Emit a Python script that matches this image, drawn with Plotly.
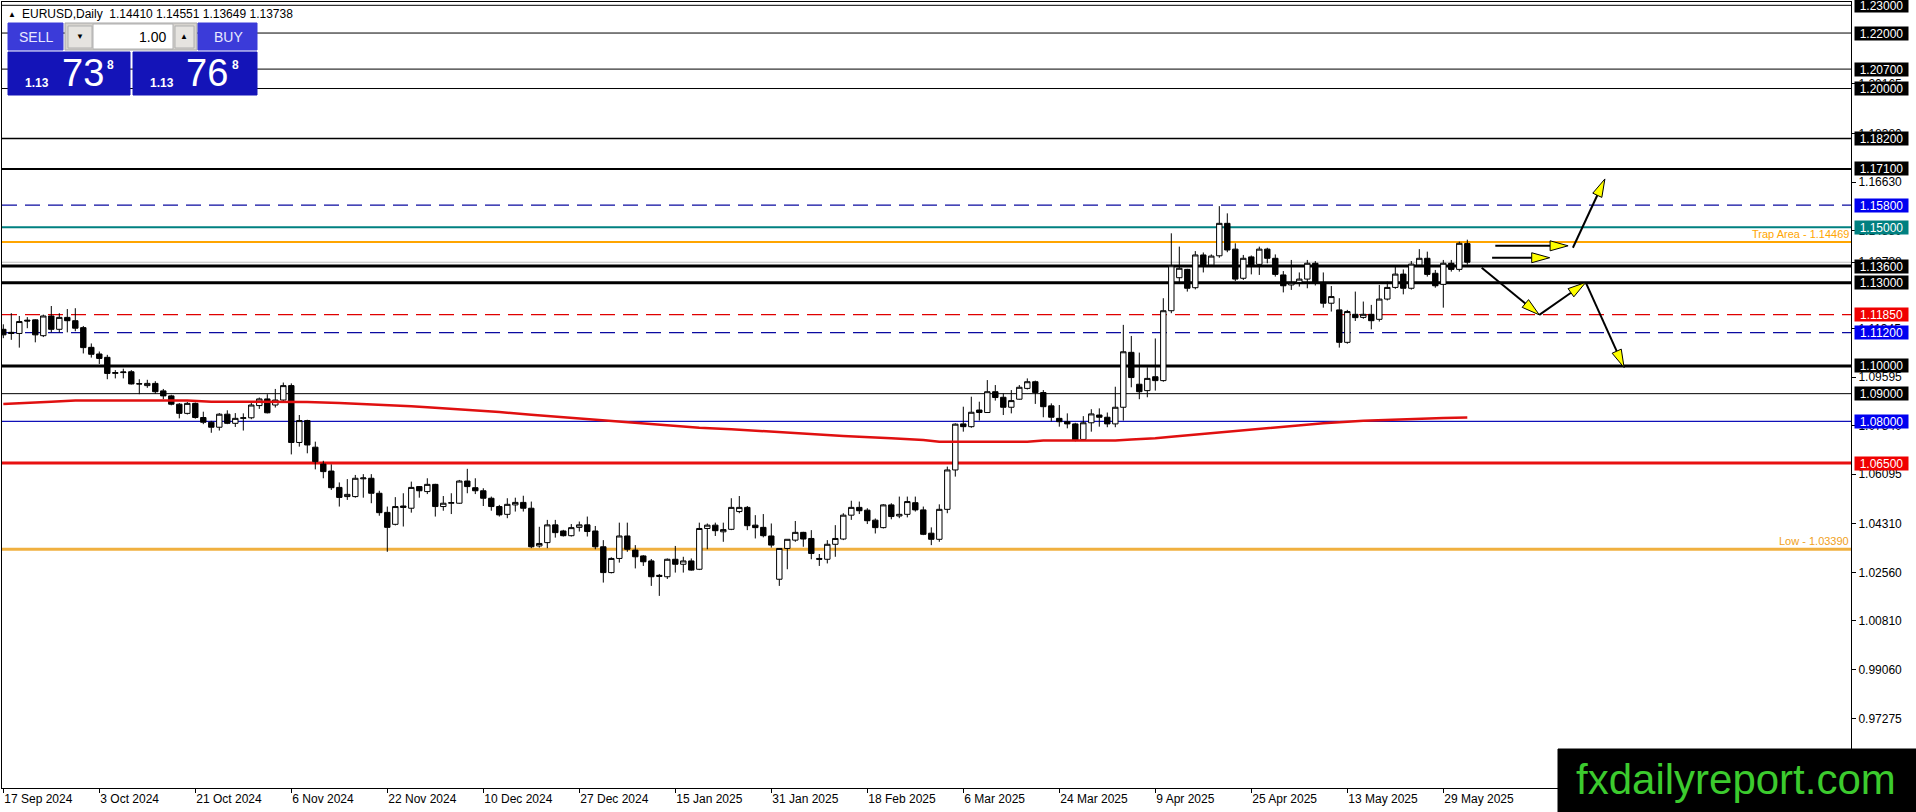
import math
import plotly.graph_objects as go

# EURUSD daily bars, 17 Sep 2024 .. 3 Jun 2025 (one entry per MT4 bar)
opens = [
    1.1132, 1.1121, 1.1117, 1.1165, 1.1166, 1.1109, 1.1180, 1.1132, 1.1175, 1.1163,
    1.1138, 1.1067, 1.1043, 1.1031, 1.0973, 1.0976, 1.0979, 1.0936, 1.0929, 1.0937,
    1.0910, 1.0892, 1.0862, 1.0829, 1.0865, 1.0814, 1.0797, 1.0779, 1.0826, 1.0793,
    1.0811, 1.0813, 1.0857, 1.0881, 1.0859, 1.0877, 1.0929, 1.0724, 1.0803, 1.0707,
    1.0646, 1.0621, 1.0562, 1.0529, 1.0529, 1.0593, 1.0595, 1.0541, 1.0472, 1.0429,
    1.0495, 1.0487, 1.0565, 1.0547, 1.0573, 1.0493, 1.0505, 1.0505, 1.0585, 1.0561,
    1.0550, 1.0523, 1.0493, 1.0465, 1.0499, 1.0508, 1.0487, 1.0351, 1.0363, 1.0427,
    1.0405, 1.0388, 1.0418, 1.0427, 1.0405, 1.0348, 1.0255, 1.0306, 1.0387, 1.0336,
    1.0315, 1.0297, 1.0241, 1.0240, 1.0303, 1.0285, 1.0297, 1.0267, 1.0414, 1.0426,
    1.0402, 1.0411, 1.0475, 1.0490, 1.0426, 1.0418, 1.0387, 1.0231, 1.0342, 1.0372,
    1.0400, 1.0378, 1.0306, 1.0303, 1.0357, 1.0376, 1.0462, 1.0490, 1.0480, 1.0444,
    1.0417, 1.0499, 1.0459, 1.0465, 1.0507, 1.0481, 1.0397, 1.0375, 1.0483, 1.0625,
    1.0791, 1.0781, 1.0841, 1.0832, 1.0907, 1.0887, 1.0851, 1.0880, 1.0919, 1.0943,
    1.0904, 1.0856, 1.0811, 1.0799, 1.0791, 1.0735, 1.0795, 1.0823, 1.0815, 1.0791,
    1.0851, 1.1049, 1.0934, 1.0911, 1.0961, 1.0947, 1.1199, 1.1318, 1.1348, 1.1282,
    1.1400, 1.1364, 1.1397, 1.1514, 1.1421, 1.1316, 1.1393, 1.1366, 1.1421, 1.1388,
    1.1328, 1.1292, 1.1301, 1.1313, 1.1370, 1.1301, 1.1226, 1.1202, 1.1085, 1.1186,
    1.1175, 1.1186, 1.1168, 1.1241, 1.1283, 1.1331, 1.1280, 1.1364, 1.1388, 1.1334,
    1.1294, 1.1370, 1.1348, 1.14410,
]
highs = [
    1.1150, 1.1190, 1.1180, 1.1176, 1.1168, 1.1185, 1.1216, 1.1190, 1.1205, 1.1208,
    1.1144, 1.1081, 1.1052, 1.1040, 1.0985, 1.0990, 1.0985, 1.0952, 1.0950, 1.0945,
    1.0917, 1.0896, 1.0866, 1.0870, 1.0868, 1.0835, 1.0802, 1.0830, 1.0840, 1.0830,
    1.0829, 1.0870, 1.0886, 1.0898, 1.0917, 1.0940, 1.0937, 1.0823, 1.0806, 1.0727,
    1.0658, 1.0645, 1.0580, 1.0592, 1.0607, 1.0610, 1.0610, 1.0550, 1.0493, 1.0527,
    1.0541, 1.0583, 1.0567, 1.0595, 1.0575, 1.0531, 1.0541, 1.0589, 1.0629, 1.0595,
    1.0559, 1.0529, 1.0499, 1.0523, 1.0525, 1.0532, 1.0511, 1.0420, 1.0445, 1.0445,
    1.0409, 1.0430, 1.0439, 1.0457, 1.0423, 1.0372, 1.0310, 1.0435, 1.0435, 1.0354,
    1.0318, 1.0304, 1.0250, 1.0306, 1.0351, 1.0312, 1.0306, 1.0435, 1.0432, 1.0435,
    1.0435, 1.0523, 1.0531, 1.0495, 1.0462, 1.0466, 1.0432, 1.0342, 1.0375, 1.0441,
    1.0402, 1.0408, 1.0322, 1.0372, 1.0426, 1.0469, 1.0514, 1.0511, 1.0487, 1.0450,
    1.0502, 1.0505, 1.0529, 1.0529, 1.0529, 1.0493, 1.0418, 1.0501, 1.0637, 1.0793,
    1.0853, 1.0889, 1.0871, 1.0949, 1.0931, 1.0901, 1.0913, 1.0931, 1.0955, 1.0947,
    1.0913, 1.0865, 1.0859, 1.0829, 1.0795, 1.0819, 1.0844, 1.0847, 1.0832, 1.0925,
    1.1148, 1.1108, 1.1048, 1.0995, 1.1099, 1.1244, 1.1478, 1.1430, 1.1350, 1.1414,
    1.1409, 1.1402, 1.1576, 1.1550, 1.1442, 1.1400, 1.1398, 1.1430, 1.1426, 1.1402,
    1.1342, 1.1382, 1.1337, 1.1382, 1.1378, 1.1337, 1.1288, 1.1244, 1.1202, 1.1268,
    1.1232, 1.1220, 1.1292, 1.1304, 1.1358, 1.1348, 1.1378, 1.1421, 1.1412, 1.1346,
    1.1382, 1.1382, 1.1448, 1.14551,
]
lows = [
    1.1100, 1.1094, 1.1066, 1.1136, 1.1085, 1.1104, 1.1121, 1.1121, 1.1121, 1.1125,
    1.1045, 1.1030, 1.1007, 1.0952, 1.0955, 1.0955, 1.0933, 1.0898, 1.0921, 1.0900,
    1.0880, 1.0858, 1.0811, 1.0825, 1.0810, 1.0790, 1.0759, 1.0767, 1.0790, 1.0780,
    1.0767, 1.0808, 1.0845, 1.0829, 1.0850, 1.0870, 1.0681, 1.0709, 1.0685, 1.0627,
    1.0595, 1.0553, 1.0493, 1.0517, 1.0525, 1.0525, 1.0505, 1.0460, 1.0330, 1.0425,
    1.0421, 1.0471, 1.0525, 1.0538, 1.0457, 1.0478, 1.0466, 1.0503, 1.0541, 1.0538,
    1.0495, 1.0478, 1.0457, 1.0451, 1.0475, 1.0475, 1.0343, 1.0345, 1.0343, 1.0381,
    1.0385, 1.0385, 1.0403, 1.0385, 1.0339, 1.0219, 1.0252, 1.0291, 1.0330, 1.0270,
    1.0279, 1.0207, 1.0171, 1.0232, 1.0255, 1.0255, 1.0262, 1.0264, 1.0339, 1.0387,
    1.0366, 1.0408, 1.0469, 1.0408, 1.0378, 1.0382, 1.0345, 1.0207, 1.0267, 1.0366,
    1.0348, 1.0303, 1.0279, 1.0288, 1.0312, 1.0372, 1.0445, 1.0466, 1.0430, 1.0396,
    1.0414, 1.0447, 1.0451, 1.0454, 1.0475, 1.0390, 1.0354, 1.0366, 1.0469, 1.0601,
    1.0763, 1.0777, 1.0803, 1.0832, 1.0875, 1.0823, 1.0829, 1.0878, 1.0915, 1.0863,
    1.0815, 1.0800, 1.0781, 1.0775, 1.0728, 1.0730, 1.0763, 1.0781, 1.0779, 1.0779,
    1.0803, 1.0923, 1.0880, 1.0887, 1.0911, 1.0943, 1.1190, 1.1298, 1.1268, 1.1276,
    1.1337, 1.1360, 1.1390, 1.1410, 1.1306, 1.1310, 1.1330, 1.1328, 1.1370, 1.1322,
    1.1265, 1.1274, 1.1286, 1.1280, 1.1290, 1.1210, 1.1196, 1.1066, 1.1080, 1.1162,
    1.1170, 1.1132, 1.1160, 1.1236, 1.1278, 1.1258, 1.1275, 1.1360, 1.1322, 1.1282,
    1.1210, 1.1340, 1.1340, 1.13649,
]
closes = [
    1.1112, 1.1117, 1.1160, 1.1162, 1.1112, 1.1180, 1.1132, 1.1175, 1.1163, 1.1136,
    1.1066, 1.1042, 1.1027, 1.0973, 1.0976, 1.0978, 1.0935, 1.0935, 1.0937, 1.0907,
    1.0892, 1.0862, 1.0829, 1.0865, 1.0814, 1.0797, 1.0779, 1.0826, 1.0793, 1.0811,
    1.0813, 1.0859, 1.0881, 1.0831, 1.0877, 1.0929, 1.0724, 1.0803, 1.0715, 1.0655,
    1.0619, 1.0561, 1.0526, 1.0537, 1.0595, 1.0596, 1.0541, 1.0471, 1.0418, 1.0493,
    1.0490, 1.0562, 1.0550, 1.0573, 1.0493, 1.0505, 1.0507, 1.0585, 1.0565, 1.0550,
    1.0523, 1.0493, 1.0463, 1.0501, 1.0508, 1.0487, 1.0348, 1.0360, 1.0427, 1.0399,
    1.0388, 1.0417, 1.0427, 1.0403, 1.0348, 1.0255, 1.0306, 1.0387, 1.0339, 1.0312,
    1.0294, 1.0240, 1.0245, 1.0303, 1.0285, 1.0297, 1.0264, 1.0414, 1.0426, 1.0406,
    1.0410, 1.0490, 1.0490, 1.0424, 1.0417, 1.0388, 1.0354, 1.0342, 1.0375, 1.0400,
    1.0376, 1.0324, 1.0303, 1.0357, 1.0378, 1.0462, 1.0490, 1.0478, 1.0442, 1.0417,
    1.0499, 1.0457, 1.0465, 1.0511, 1.0481, 1.0393, 1.0375, 1.0483, 1.0625, 1.0790,
    1.0781, 1.0833, 1.0832, 1.0907, 1.0886, 1.0851, 1.0875, 1.0923, 1.0943, 1.0904,
    1.0853, 1.0815, 1.0799, 1.0791, 1.0733, 1.0795, 1.0827, 1.0815, 1.0791, 1.0851,
    1.1051, 1.0958, 1.0907, 1.0955, 1.0947, 1.1199, 1.1361, 1.1352, 1.1280, 1.1400,
    1.1364, 1.1396, 1.1514, 1.1418, 1.1313, 1.1388, 1.1361, 1.1421, 1.1388, 1.1330,
    1.1289, 1.1301, 1.1313, 1.1370, 1.1301, 1.1226, 1.1250, 1.1085, 1.1196, 1.1174,
    1.1186, 1.1163, 1.1241, 1.1283, 1.1331, 1.1280, 1.1367, 1.1388, 1.1330, 1.1289,
    1.1370, 1.1348, 1.1442, 1.13738,
]

# moving average (red line), read at a few bar positions
ma_bar = [0, 3, 6, 9, 23, 26, 38, 42, 46, 48, 51, 53, 55, 58, 62, 66, 70, 75, 79, 83,
          87, 91, 95, 100, 105, 111, 115, 117, 128, 130, 139, 141, 144, 146, 150, 155,
          160, 165, 170, 175, 180, 183]
ma_val = [1.0863, 1.0868, 1.0871, 1.0875, 1.0875, 1.0871, 1.0870, 1.0866, 1.0862, 1.0859,
          1.0855, 1.0851, 1.0847, 1.0843, 1.0834, 1.0824, 1.0815, 1.0803, 1.0795, 1.0787,
          1.0777, 1.0772, 1.0765, 1.0755, 1.0747, 1.0739, 1.0733, 1.0727, 1.0727, 1.0731,
          1.0731, 1.0735, 1.0739, 1.0745, 1.0755, 1.0768, 1.0780, 1.0793, 1.0802, 1.0808,
          1.0812, 1.0814]

date_bars = [0, 12, 24, 36, 48, 60, 72, 84, 96, 108, 120, 132, 144, 156, 168, 180]
date_labels = ["17 Sep 2024", "3 Oct 2024", "21 Oct 2024", "6 Nov 2024", "22 Nov 2024",
               "10 Dec 2024", "27 Dec 2024", "15 Jan 2025", "31 Jan 2025", "18 Feb 2025",
               "6 Mar 2025", "24 Mar 2025", "9 Apr 2025", "25 Apr 2025", "13 May 2025",
               "29 May 2025"]

# horizontal levels drawn on the chart
levels = [1.2300, 1.2200, 1.2070, 1.2000, 1.1820, 1.1710, 1.1580, 1.1500, 1.14469,
          1.13738, 1.1360, 1.1300, 1.1185, 1.1120, 1.1000, 1.0900, 1.0800, 1.0650, 1.0339]
level_color = ["black", "black", "black", "black", "black", "black", "#0A0AA0", "#008080",
               "#FFA500", "#C0C0C0", "black", "black", "#E00000", "#0A0AA0", "black",
               "black", "#1010B8", "#E81010", "#F0B040"]
level_width = [1, 1, 1, 1, 1.5, 2, 1.3, 2, 2, 1, 3, 3, 1.3, 1.3, 3, 1, 1.2, 3, 3]
level_dash = ["solid"] * 6 + ["15px,8px"] + ["solid"] * 5 + ["15px,8px", "15px,8px"] + ["solid"] * 5

# coloured price tags on the right scale
tag_price = [1.2300, 1.2200, 1.2070, 1.2000, 1.1820, 1.1710, 1.1580, 1.1500, 1.1360,
             1.1300, 1.1185, 1.1120, 1.1000, 1.0900, 1.0800, 1.0650]
tag_color = ["black", "black", "black", "black", "black", "black", "#0000F0", "#008080",
             "black", "black", "#F00000", "#0000F0", "black", "black", "#0000F0", "#F00000"]

# plain scale labels (some sit behind the tags)
scale_ticks = [1.20165, 1.18380, 1.16630, 1.14880, 1.13738, 1.11345, 1.09595, 1.07840,
               1.06095, 1.04310, 1.02560, 1.00810, 0.99060, 0.97275]

# drawn arrows: (bar0, price0, bar1, price1)
arrows = [(186.5, 1.1433, 195.6, 1.1433), (186.1, 1.1390, 193.3, 1.1390),
          (196.2, 1.1426, 200.2, 1.1674), (184.8, 1.1354, 192.0, 1.1184),
          (192.0, 1.1184, 197.8, 1.1301), (197.8, 1.1301, 202.6, 1.0994)]

FONT = "Liberation Sans, Arial, sans-serif"
W, H = 1916, 812
ML, MR, MT, MB = 2, 65, 2, 24
PW, PH = W - ML - MR, H - MT - MB
PX_PER_BAR = 8.0
PX_PER_UNIT = 2774.0
X0 = -0.1625
X1 = X0 + PW / PX_PER_BAR
Y1 = 1.23 + 3.3 / PX_PER_UNIT
Y0 = Y1 - PH / PX_PER_UNIT


def xpx(x):
    return ML + (x - X0) * PX_PER_BAR


def ypx(y):
    return MT + (Y1 - y) * PX_PER_UNIT


def fx(px):
    return (px - ML) / PW


def fy(py):
    return 1 - (py - MT) / PH


shapes = []
annotations = []

for p, c, w, d in zip(levels, level_color, level_width, level_dash):
    shapes.append(dict(type="line", xref="paper", yref="y", x0=0, x1=1, y0=p, y1=p,
                       line=dict(color=c, width=w, dash=d), layer="below"))

for p, c in zip(tag_price, tag_color):
    annotations.append(dict(xref="paper", yref="y", x=1, y=p, xanchor="left", yanchor="middle",
                            xshift=3, text="%.5f" % p, showarrow=False, bgcolor=c,
                            width=53, height=13, borderpad=0,
                            font=dict(family=FONT, size=12, color="white")))

annotations.append(dict(xref="paper", yref="y", x=1, y=1.14469, xanchor="right",
                        yanchor="bottom", text="Trap Area - 1.14469", showarrow=False,
                        font=dict(family=FONT, size=11, color="#FFA500")))
annotations.append(dict(xref="paper", yref="y", x=1, y=1.0339, xanchor="right",
                        yanchor="bottom", text="Low - 1.03390", showarrow=False,
                        font=dict(family=FONT, size=11, color="#F0A020")))

# arrows: black shaft, yellow head
for bx0, by0, bx1, by1 in arrows:
    p0x, p0y, p1x, p1y = xpx(bx0), ypx(by0), xpx(bx1), ypx(by1)
    dx, dy = p1x - p0x, p1y - p0y
    n = math.hypot(dx, dy)
    ux, uy = dx / n, dy / n
    hl, hw = 18, 5
    cx, cy = p1x - ux * hl, p1y - uy * hl
    pts = [(p1x, p1y), (cx - uy * hw, cy + ux * hw), (cx + uy * hw, cy - ux * hw)]
    to_data = [(X0 + (a - ML) / PX_PER_BAR, Y1 - (b - MT) / PX_PER_UNIT) for a, b in pts]
    shapes.append(dict(type="line", xref="x", yref="y", x0=bx0, y0=by0,
                       x1=X0 + (cx - ML) / PX_PER_BAR, y1=Y1 - (cy - MT) / PX_PER_UNIT,
                       line=dict(color="black", width=2), layer="above"))
    path = "M %f %f L %f %f L %f %f Z" % (to_data[0] + to_data[1] + to_data[2])
    shapes.append(dict(type="path", xref="x", yref="y", path=path, fillcolor="#FFFF00",
                       line=dict(color="black", width=1), layer="above"))


def rect(x0, y0, x1, y1, fill, line=None):
    shapes.append(dict(type="rect", xref="paper", yref="paper", x0=fx(x0), x1=fx(x1),
                       y0=fy(y1), y1=fy(y0), fillcolor=fill,
                       line=dict(color=line or fill, width=1), layer="above"))


def label(px, py, s, size, color, anchor="center", family=FONT):
    annotations.append(dict(xref="paper", yref="paper", x=fx(px), y=fy(py), text=s,
                            showarrow=False, xanchor=anchor, yanchor="middle",
                            font=dict(size=size, color=color, family=family)))


# one-click trading panel
label(6, 14, "▲", 8, "black", anchor="left")
label(20, 14, "EURUSD,Daily  1.14410 1.14551 1.13649 1.13738", 12, "black", anchor="left")
rect(8, 23, 63, 50, "#3B3BD9")
rect(65, 23, 197, 50, "#D6D3CE", "#A8A8A8")
rect(68, 26, 92, 48, "#E6E4E0", "#B0B0B0")
rect(93, 24, 173, 49, "white", "#B0B0B0")
rect(175, 26, 194, 48, "#E6E4E0", "#B0B0B0")
rect(198, 23, 257, 50, "#3B3BD9")
rect(8, 52, 130, 95, "#1414B8")
rect(133, 52, 257, 95, "#1414B8")
label(36, 37, "SELL", 14, "#E8E8FF")
label(228, 37, "BUY", 14, "#E8E8FF")
label(80, 37, "▼", 8, "black")
label(184, 37, "▲", 8, "black")
label(168, 37, "1.00", 14, "black", anchor="right")
label(37, 83, "<b>1.13</b>", 12, "white")
label(83, 73, "73", 38, "white")
label(110, 65, "<b>8</b>", 12, "white")
label(162, 83, "<b>1.13</b>", 12, "white")
label(207, 73, "76", 38, "white")
label(235, 65, "<b>8</b>", 12, "white")

# site badge, bottom right
rect(1558, 749, 1920, 816, "black")
label(1736, 779, "fxdailyreport.com", 42, "#3CCB2E")

fig = go.Figure()
fig.add_trace(go.Scatter(x=ma_bar, y=ma_val, mode="lines", hoverinfo="skip",
                         line=dict(color="#E01010", width=2.5)))
fig.add_trace(go.Candlestick(
    x=list(range(len(opens))), open=opens, high=highs, low=lows, close=closes,
    increasing=dict(line=dict(color="black", width=1), fillcolor="white"),
    decreasing=dict(line=dict(color="black", width=1), fillcolor="black"),
    whiskerwidth=0))

fig.update_layout(
    width=W, height=H, autosize=False,
    margin=dict(l=ML, r=MR, t=MT, b=MB),
    paper_bgcolor="white", plot_bgcolor="white",
    showlegend=False, boxgap=0.1, boxgroupgap=0.25,
    shapes=shapes, annotations=annotations,
    font=dict(family=FONT, size=12, color="black"),
    xaxis=dict(range=[X0, X1], tickvals=date_bars, ticktext=date_labels,
               ticks="outside", ticklen=4, tickcolor="black",
               ticklabelposition="outside right", showgrid=False, zeroline=False,
               showline=True, linecolor="black", linewidth=1, mirror=True,
               rangeslider=dict(visible=False), fixedrange=True,
               tickfont=dict(family=FONT, size=12, color="black")),
    yaxis=dict(range=[Y0, Y1], side="right", tickvals=scale_ticks,
               ticktext=["%.5f" % t for t in scale_ticks],
               ticks="outside", ticklen=4, tickcolor="black", showgrid=False,
               zeroline=False, showline=True, linecolor="black", linewidth=1,
               mirror=True, fixedrange=True,
               tickfont=dict(family=FONT, size=12, color="black")),
)

# the page's default body margin would push the chart off its place
fig.write_html("out.html", config={"displayModeBar": False},
               post_script="document.body.style.margin='0';document.body.style.overflow='hidden';")
